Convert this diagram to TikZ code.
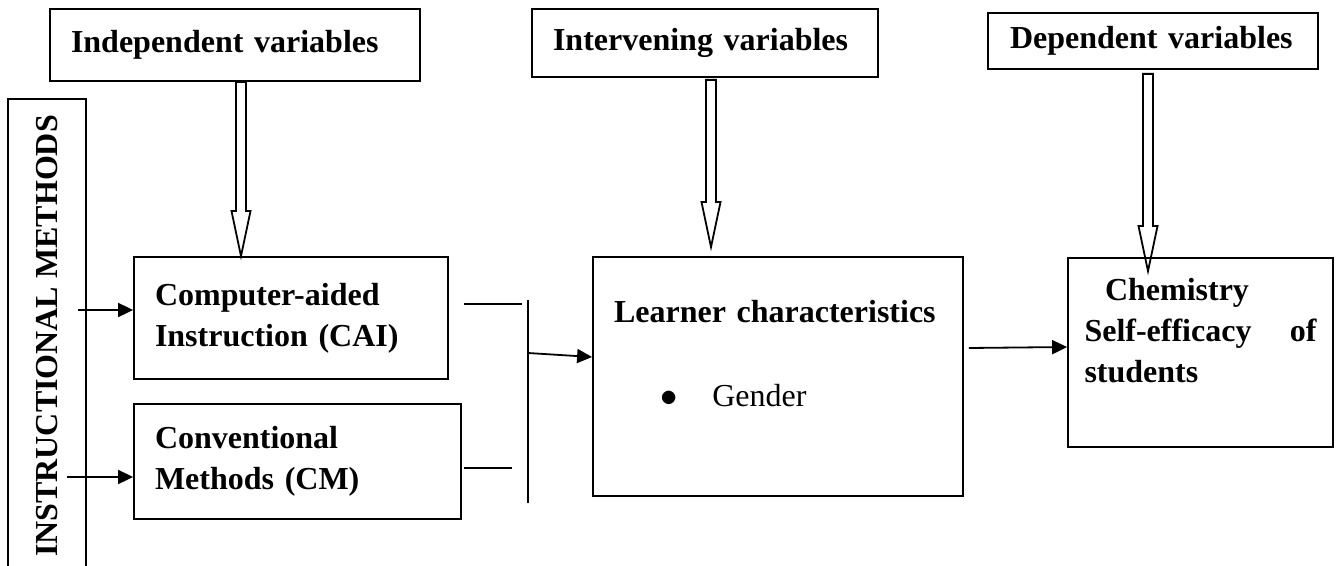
\documentclass[tikz,border=0pt]{standalone}
\usepackage{fontspec}
\setmainfont{Liberation Serif}
\usetikzlibrary{arrows.meta,calc}

\begin{document}
\begin{tikzpicture}
  [x=0.5pt,y=-0.5pt,line width=0.9pt,
   box/.style={draw,rectangle,inner xsep=10.5pt,inner ysep=0pt,align=left,
     font=\fontsize{16}{20.5}\selectfont\bfseries},
   arr/.style={-{Triangle[length=7.5pt,width=7pt]}},
   hollow/.style={to path={let \p1=(\tikztostart), \p2=(\tikztotarget) in
     (\x1-2.5pt,\y1) -- (\x1-2.5pt,\y2+22.5pt) -- (\x1-4.75pt,\y2+22.5pt) -- (\x1,\y2)
     -- (\x1+4.75pt,\y2+22.5pt) -- (\x1+2.5pt,\y2+22.5pt) -- (\x1+2.5pt,\y1) -- cycle}}]
  \useasboundingbox (0,0) rectangle (1336,566);
  \clip (0,0) rectangle (1336,566);

  % variable headings
  \node[box,text width=164pt,minimum height=36pt] (indep) at (235,45) {Independent variables};
  \node[box,text width=152pt,minimum height=34pt] (interv) at (705,43) {Intervening variables};
  \node[box,text width=143pt,minimum height=28pt,inner xsep=11pt] (dep) at (1153,41) {Dependent variables};

  % methods
  \node[box,rotate=90,inner xsep=0pt,minimum width=237pt,minimum height=39pt] (inst) at (47,336) {INSTRUCTIONAL METHODS};
  \node[box,text width=136pt,minimum height=61pt] (cai) at (291,318) {Computer-aided\\Instruction (CAI)};
  \node[box,text width=142.5pt,minimum height=57.5pt] (cm) at (297.5,461.5) {Conventional\\Methods (CM)};

  % learner and outcome
  \node[box,text width=164pt,minimum height=119.5pt,text depth=65.4pt] (learner) at (778,376.5)
    {Learner characteristics\\[21.5pt]\hspace*{23pt}{\mdseries$\bullet$\hspace{17.5pt}Gender}};
  \node[box,text width=116pt,inner xsep=8.25pt,minimum height=94.5pt,text depth=63.4pt] (chem) at (1200.5,352.5)
    {\hspace*{10.25pt}Chemistry\\Self-efficacy\hfill of\\students};

  % block arrows down from the headings
  \draw[hollow] ([xshift=3pt]indep.south) to (cai.north);
  \draw[hollow] ([xshift=3pt,yshift=-1pt]interv.south) to ([yshift=4.5pt]learner.north);
  \draw[hollow] ([xshift=-2.5pt,yshift=-2pt]dep.south) to ([yshift=-7pt]chem.north);

  \coordinate (caiin) at (78,310);
  \coordinate (cmin) at (67,477);
  \draw[arr] (caiin) -- (caiin -| cai.west);
  \draw[arr] (cmin) -- (cmin -| cm.west);

  % joining bar
  \draw ([xshift=7.5pt,yshift=7pt]cai.east) -- ++(58,0);
  \draw ([xshift=1pt,yshift=-3.25pt]cm.east) -- ++(48,0);
  \coordinate (bartop) at (528,300);
  \coordinate (barbot) at (528,503);
  \coordinate (barmid) at (528,353);
  \draw (bartop) -- (barbot);
  \draw[arr] (barmid) -- ([yshift=9.75pt]learner.west);
  \draw[arr] ([xshift=2.5pt,yshift=14.25pt]learner.east) -- ([yshift=2.75pt]chem.west);
\end{tikzpicture}
\end{document}
